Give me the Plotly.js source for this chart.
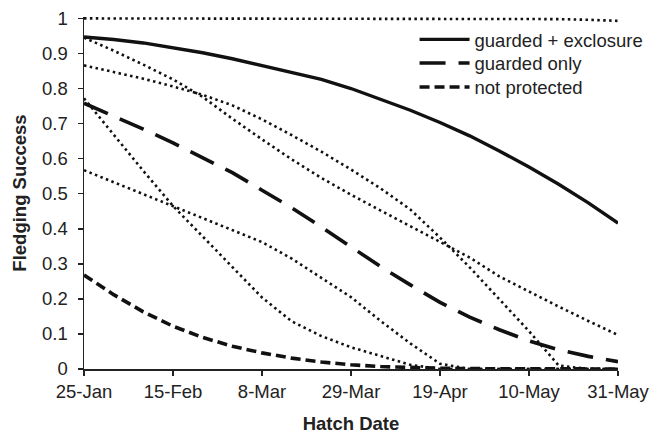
<!DOCTYPE html>
<html><head><meta charset="utf-8">
<script src="https://cdn.plot.ly/plotly-3.0.1.min.js"></script>
<style>html,body{margin:0;padding:0;background:#fff}#chart{width:650px;height:434px}</style>
</head><body><div id="chart"></div>
<script>
// days after 25-Jan
const days = [0,7,14,21,28,35,42,49,56,63,70,77,84,91,98,105,112,119,126];
const tickDays = [0,21,42,63,84,105,126];
const tickLabels = ['25-Jan','15-Feb','8-Mar','29-Mar','19-Apr','10-May','31-May'];

const guardedExclosure = [0.947,0.940,0.930,0.917,0.902,0.885,0.866,0.847,0.826,0.800,0.770,0.738,0.703,0.665,0.622,0.576,0.527,0.474,0.416];
const guardedOnly      = [0.758,0.722,0.684,0.645,0.603,0.560,0.510,0.460,0.405,0.349,0.292,0.240,0.190,0.148,0.112,0.080,0.055,0.036,0.021];
const notProtected     = [0.268,0.212,0.163,0.122,0.090,0.065,0.046,0.031,0.020,0.012,0.007,0.004,0.002,0.001,0.001,0,0,0,0];

// dotted confidence bounds
const boundA = [1,1,1,1,1,1,1,1,1,1,1,1,1,1,1,0.999,0.998,0.996,0.993];
const boundB = [0.945,0.908,0.868,0.826,0.776,0.714,0.655,0.598,0.545,0.497,0.452,0.408,0.362,0.318,0.264,0.220,0.178,0.137,0.097];
const boundC = [0.866,0.847,0.828,0.806,0.782,0.752,0.712,0.667,0.620,0.569,0.515,0.455,0.375,0.290,0.200,0.108,0.010,0,0];
const boundD = [0.772,0.668,0.565,0.465,0.378,0.290,0.204,0.136,0.094,0.062,0.036,0.012,0,0,0,0,0,0,0];
const boundE = [0.567,0.533,0.500,0.466,0.431,0.396,0.362,0.315,0.260,0.205,0.137,0.073,0.015,0,0,0,0,0,0];

const FONT = 'Liberation Sans, Arial, sans-serif';
const dotted = {color:'#111', width:2.6, dash:'2.5px,3.4px'};
const bounds = [boundA, boundB, boundC, boundD, boundE];
const traces = bounds.map(b => ({x: days, y: b, type:'scatter', mode:'lines', line: dotted, showlegend:false, hoverinfo:'skip'}));
traces.push({x: days, y: notProtected, type:'scatter', mode:'lines', name:'not protected', legend:'legend3', line:{color:'#111', width:3.6, dash:'10px,5px'}});
traces.push({x: days, y: guardedOnly, type:'scatter', mode:'lines', name:'guarded only', legend:'legend2', line:{color:'#111', width:3.6, dash:'26px,13px'}});
traces.push({x: days, y: guardedExclosure, type:'scatter', mode:'lines', name:'guarded + exclosure', legend:'legend', line:{color:'#111', width:3.4}});

const legFont = {family:FONT, size:18.5, color:'#222'};
const legBase = {x:0.619, xanchor:'left', yanchor:'middle', itemwidth:50, bgcolor:'rgba(0,0,0,0)', font:legFont};

const layout = {
  width:650, height:434,
  margin:{l:84, r:32, t:17, b:65, autoexpand:false},
  paper_bgcolor:'#fff', plot_bgcolor:'#fff',
  font:{family:FONT, size:18.5, color:'#222'},
  showlegend:true,
  legend: Object.assign({}, legBase, {y:0.935}),
  legend2: Object.assign({}, legBase, {y:0.868}),
  legend3: Object.assign({}, legBase, {y:0.800}),
  xaxis:{range:[0,126], tickvals:tickDays, ticktext:tickLabels, showgrid:false, zeroline:false,
         showline:true, linecolor:'#222', linewidth:1.5, ticks:'outside', ticklen:5, tickcolor:'#222', tickwidth:1.5,
         title:{text:'<b>Hatch Date</b>', font:{family:FONT, size:18.5, color:'#222'}, standoff:18}},
  yaxis:{range:[0,1.004], tickvals:[0,0.1,0.2,0.3,0.4,0.5,0.6,0.7,0.8,0.9,1], ticktext:['0','0.1','0.2','0.3','0.4','0.5','0.6','0.7','0.8','0.9','1'],
         showgrid:false, zeroline:false, showline:true, linecolor:'#222', linewidth:1.5, ticks:'outside', ticklen:5, tickcolor:'#222', tickwidth:1.5,
         ticklabelstandoff:6,
         title:{text:'<b>Fledging Success</b>', font:{family:FONT, size:18.5, color:'#222'}, standoff:10}}
};
Plotly.newPlot('chart', traces, layout, {displayModeBar:false, staticPlot:true});
</script></body></html>
